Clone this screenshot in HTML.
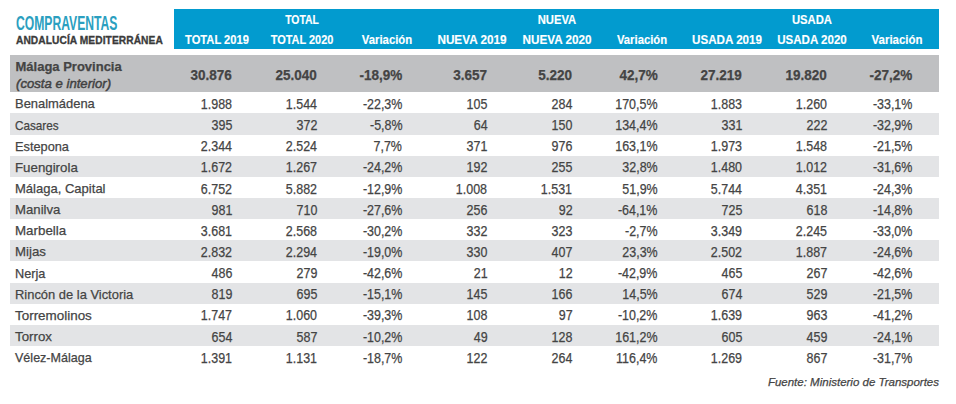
<!DOCTYPE html>
<html lang="es"><head><meta charset="utf-8"><title>Compraventas Andalucía Mediterránea</title>
<style>
*{margin:0;padding:0;box-sizing:border-box}
html,body{width:956px;height:404px;background:#fff;overflow:hidden}
body{position:relative;font-family:"Liberation Sans",Arial,sans-serif;color:#444;-webkit-text-stroke:0.25px #444}
.abs{position:absolute;white-space:nowrap}
.t{position:absolute;white-space:nowrap;line-height:1}
#title{left:15.9px;top:11.6px;font-size:20px;font-weight:bold;color:#2b9fc0;-webkit-text-stroke:0;transform-origin:0 0;transform:scaleX(0.607);letter-spacing:0}
#sub{left:16px;top:34.8px;font-size:10.2px;letter-spacing:0.08px;font-weight:bold;color:#3a3a3a;-webkit-text-stroke:0.3px #3a3a3a}
#hdr{left:174px;top:8.5px;width:765.3px;height:40px;background:#029bcf}
#band{left:9.8px;top:54.5px;width:929.6px;height:37.8px;background:#bfc0c2}
.stripe{position:absolute;left:9.8px;width:929.6px;background:#e3e4e6}
.h{position:absolute;line-height:1;white-space:nowrap;font-size:12.5px;font-weight:bold;color:#fff;-webkit-text-stroke:0.15px #fff}
.n{position:absolute;line-height:1;white-space:nowrap;font-size:14px;transform-origin:100% 50%}
.b{font-weight:bold}
.lab{position:absolute;line-height:1;white-space:nowrap;font-size:13px;left:15.5px}
.nm{font-size:13.5px;left:14.6px;transform-origin:0 50%}
#src{position:absolute;right:17px;top:377px;font-size:11.5px;font-style:italic;color:#454545;line-height:1}
</style></head>
<body>
<div class="abs" id="title">COMPRAVENTAS</div>
<div class="abs" id="sub">ANDALUCÍA MEDITERRÁNEA</div>
<div class="abs" id="hdr"></div>
<div class="abs" id="band"></div>
<div class="stripe" style="top:113.45px;height:21.15px"></div>
<div class="stripe" style="top:155.75px;height:21.15px"></div>
<div class="stripe" style="top:198.05px;height:21.15px"></div>
<div class="stripe" style="top:240.35px;height:21.15px"></div>
<div class="stripe" style="top:282.65px;height:21.15px"></div>
<div class="stripe" style="top:324.95px;height:21.15px"></div>
<div class="h" style="left:301.50px;top:13.72px;transform:translateX(-50%) scaleX(0.832)">TOTAL</div>
<div class="h" style="left:556.50px;top:13.72px;transform:translateX(-50%) scaleX(0.898)">NUEVA</div>
<div class="h" style="left:811.50px;top:13.72px;transform:translateX(-50%) scaleX(0.900)">USADA</div>
<div class="h" style="left:216.50px;top:33.82px;transform:translateX(-50%) scaleX(0.892)">TOTAL 2019</div>
<div class="h" style="left:301.50px;top:33.82px;transform:translateX(-50%) scaleX(0.876)">TOTAL 2020</div>
<div class="h" style="left:386.50px;top:33.82px;transform:translateX(-50%) scaleX(0.905)">Variación</div>
<div class="h" style="left:471.50px;top:33.82px;transform:translateX(-50%) scaleX(0.939)">NUEVA 2019</div>
<div class="h" style="left:556.50px;top:33.82px;transform:translateX(-50%) scaleX(0.935)">NUEVA 2020</div>
<div class="h" style="left:641.50px;top:33.82px;transform:translateX(-50%) scaleX(0.900)">Variación</div>
<div class="h" style="left:726.50px;top:33.82px;transform:translateX(-50%) scaleX(0.930)">USADA 2019</div>
<div class="h" style="left:811.50px;top:33.82px;transform:translateX(-50%) scaleX(0.924)">USADA 2020</div>
<div class="h" style="left:896.50px;top:33.82px;transform:translateX(-50%) scaleX(0.915)">Variación</div>
<div class="lab b" style="top:60.00px">Málaga Provincia</div>
<div class="lab" style="font-style:italic;-webkit-text-stroke:0.45px #404040;transform-origin:0 50%;transform:scaleX(1.012);top:76.80px">(costa e interior)</div>
<div class="n b" style="right:723.70px;top:67.59px;transform:scaleX(0.965)">30.876</div>
<div class="n b" style="right:638.70px;top:67.59px;transform:scaleX(0.965)">25.040</div>
<div class="n b" style="right:553.70px;top:67.59px;transform:scaleX(0.965)">-18,9%</div>
<div class="n b" style="right:468.70px;top:67.59px;transform:scaleX(0.965)">3.657</div>
<div class="n b" style="right:383.70px;top:67.59px;transform:scaleX(0.965)">5.220</div>
<div class="n b" style="right:298.70px;top:67.59px;transform:scaleX(0.965)">42,7%</div>
<div class="n b" style="right:213.70px;top:67.59px;transform:scaleX(0.965)">27.219</div>
<div class="n b" style="right:128.70px;top:67.59px;transform:scaleX(0.965)">19.820</div>
<div class="n b" style="right:43.70px;top:67.59px;transform:scaleX(0.965)">-27,2%</div>
<div class="lab nm" style="top:97.39px;transform:scaleX(0.958)">Benalmádena</div>
<div class="n" style="right:723.70px;top:96.97px;transform:scaleX(0.89)">1.988</div>
<div class="n" style="right:638.70px;top:96.97px;transform:scaleX(0.89)">1.544</div>
<div class="n" style="right:553.70px;top:96.97px;transform:scaleX(0.89)">-22,3%</div>
<div class="n" style="right:468.70px;top:96.97px;transform:scaleX(0.89)">105</div>
<div class="n" style="right:383.70px;top:96.97px;transform:scaleX(0.89)">284</div>
<div class="n" style="right:298.70px;top:96.97px;transform:scaleX(0.89)">170,5%</div>
<div class="n" style="right:213.70px;top:96.97px;transform:scaleX(0.89)">1.883</div>
<div class="n" style="right:128.70px;top:96.97px;transform:scaleX(0.89)">1.260</div>
<div class="n" style="right:43.70px;top:96.97px;transform:scaleX(0.89)">-33,1%</div>
<div class="lab nm" style="top:118.54px;transform:scaleX(0.868)">Casares</div>
<div class="n" style="right:723.70px;top:118.12px;transform:scaleX(0.89)">395</div>
<div class="n" style="right:638.70px;top:118.12px;transform:scaleX(0.89)">372</div>
<div class="n" style="right:553.70px;top:118.12px;transform:scaleX(0.89)">-5,8%</div>
<div class="n" style="right:468.70px;top:118.12px;transform:scaleX(0.89)">64</div>
<div class="n" style="right:383.70px;top:118.12px;transform:scaleX(0.89)">150</div>
<div class="n" style="right:298.70px;top:118.12px;transform:scaleX(0.89)">134,4%</div>
<div class="n" style="right:213.70px;top:118.12px;transform:scaleX(0.89)">331</div>
<div class="n" style="right:128.70px;top:118.12px;transform:scaleX(0.89)">222</div>
<div class="n" style="right:43.70px;top:118.12px;transform:scaleX(0.89)">-32,9%</div>
<div class="lab nm" style="top:139.69px;transform:scaleX(0.946)">Estepona</div>
<div class="n" style="right:723.70px;top:139.27px;transform:scaleX(0.89)">2.344</div>
<div class="n" style="right:638.70px;top:139.27px;transform:scaleX(0.89)">2.524</div>
<div class="n" style="right:553.70px;top:139.27px;transform:scaleX(0.89)">7,7%</div>
<div class="n" style="right:468.70px;top:139.27px;transform:scaleX(0.89)">371</div>
<div class="n" style="right:383.70px;top:139.27px;transform:scaleX(0.89)">976</div>
<div class="n" style="right:298.70px;top:139.27px;transform:scaleX(0.89)">163,1%</div>
<div class="n" style="right:213.70px;top:139.27px;transform:scaleX(0.89)">1.973</div>
<div class="n" style="right:128.70px;top:139.27px;transform:scaleX(0.89)">1.548</div>
<div class="n" style="right:43.70px;top:139.27px;transform:scaleX(0.89)">-21,5%</div>
<div class="lab nm" style="top:160.84px;transform:scaleX(0.984)">Fuengirola</div>
<div class="n" style="right:723.70px;top:160.42px;transform:scaleX(0.89)">1.672</div>
<div class="n" style="right:638.70px;top:160.42px;transform:scaleX(0.89)">1.267</div>
<div class="n" style="right:553.70px;top:160.42px;transform:scaleX(0.89)">-24,2%</div>
<div class="n" style="right:468.70px;top:160.42px;transform:scaleX(0.89)">192</div>
<div class="n" style="right:383.70px;top:160.42px;transform:scaleX(0.89)">255</div>
<div class="n" style="right:298.70px;top:160.42px;transform:scaleX(0.89)">32,8%</div>
<div class="n" style="right:213.70px;top:160.42px;transform:scaleX(0.89)">1.480</div>
<div class="n" style="right:128.70px;top:160.42px;transform:scaleX(0.89)">1.012</div>
<div class="n" style="right:43.70px;top:160.42px;transform:scaleX(0.89)">-31,6%</div>
<div class="lab nm" style="top:181.99px;transform:scaleX(0.965)">Málaga, Capital</div>
<div class="n" style="right:723.70px;top:181.57px;transform:scaleX(0.89)">6.752</div>
<div class="n" style="right:638.70px;top:181.57px;transform:scaleX(0.89)">5.882</div>
<div class="n" style="right:553.70px;top:181.57px;transform:scaleX(0.89)">-12,9%</div>
<div class="n" style="right:468.70px;top:181.57px;transform:scaleX(0.89)">1.008</div>
<div class="n" style="right:383.70px;top:181.57px;transform:scaleX(0.89)">1.531</div>
<div class="n" style="right:298.70px;top:181.57px;transform:scaleX(0.89)">51,9%</div>
<div class="n" style="right:213.70px;top:181.57px;transform:scaleX(0.89)">5.744</div>
<div class="n" style="right:128.70px;top:181.57px;transform:scaleX(0.89)">4.351</div>
<div class="n" style="right:43.70px;top:181.57px;transform:scaleX(0.89)">-24,3%</div>
<div class="lab nm" style="top:203.14px;transform:scaleX(0.976)">Manilva</div>
<div class="n" style="right:723.70px;top:202.72px;transform:scaleX(0.89)">981</div>
<div class="n" style="right:638.70px;top:202.72px;transform:scaleX(0.89)">710</div>
<div class="n" style="right:553.70px;top:202.72px;transform:scaleX(0.89)">-27,6%</div>
<div class="n" style="right:468.70px;top:202.72px;transform:scaleX(0.89)">256</div>
<div class="n" style="right:383.70px;top:202.72px;transform:scaleX(0.89)">92</div>
<div class="n" style="right:298.70px;top:202.72px;transform:scaleX(0.89)">-64,1%</div>
<div class="n" style="right:213.70px;top:202.72px;transform:scaleX(0.89)">725</div>
<div class="n" style="right:128.70px;top:202.72px;transform:scaleX(0.89)">618</div>
<div class="n" style="right:43.70px;top:202.72px;transform:scaleX(0.89)">-14,8%</div>
<div class="lab nm" style="top:224.29px;transform:scaleX(0.988)">Marbella</div>
<div class="n" style="right:723.70px;top:223.87px;transform:scaleX(0.89)">3.681</div>
<div class="n" style="right:638.70px;top:223.87px;transform:scaleX(0.89)">2.568</div>
<div class="n" style="right:553.70px;top:223.87px;transform:scaleX(0.89)">-30,2%</div>
<div class="n" style="right:468.70px;top:223.87px;transform:scaleX(0.89)">332</div>
<div class="n" style="right:383.70px;top:223.87px;transform:scaleX(0.89)">323</div>
<div class="n" style="right:298.70px;top:223.87px;transform:scaleX(0.89)">-2,7%</div>
<div class="n" style="right:213.70px;top:223.87px;transform:scaleX(0.89)">3.349</div>
<div class="n" style="right:128.70px;top:223.87px;transform:scaleX(0.89)">2.245</div>
<div class="n" style="right:43.70px;top:223.87px;transform:scaleX(0.89)">-33,0%</div>
<div class="lab nm" style="top:245.44px;transform:scaleX(0.980)">Mijas</div>
<div class="n" style="right:723.70px;top:245.02px;transform:scaleX(0.89)">2.832</div>
<div class="n" style="right:638.70px;top:245.02px;transform:scaleX(0.89)">2.294</div>
<div class="n" style="right:553.70px;top:245.02px;transform:scaleX(0.89)">-19,0%</div>
<div class="n" style="right:468.70px;top:245.02px;transform:scaleX(0.89)">330</div>
<div class="n" style="right:383.70px;top:245.02px;transform:scaleX(0.89)">407</div>
<div class="n" style="right:298.70px;top:245.02px;transform:scaleX(0.89)">23,3%</div>
<div class="n" style="right:213.70px;top:245.02px;transform:scaleX(0.89)">2.502</div>
<div class="n" style="right:128.70px;top:245.02px;transform:scaleX(0.89)">1.887</div>
<div class="n" style="right:43.70px;top:245.02px;transform:scaleX(0.89)">-24,6%</div>
<div class="lab nm" style="top:266.59px;transform:scaleX(0.940)">Nerja</div>
<div class="n" style="right:723.70px;top:266.17px;transform:scaleX(0.89)">486</div>
<div class="n" style="right:638.70px;top:266.17px;transform:scaleX(0.89)">279</div>
<div class="n" style="right:553.70px;top:266.17px;transform:scaleX(0.89)">-42,6%</div>
<div class="n" style="right:468.70px;top:266.17px;transform:scaleX(0.89)">21</div>
<div class="n" style="right:383.70px;top:266.17px;transform:scaleX(0.89)">12</div>
<div class="n" style="right:298.70px;top:266.17px;transform:scaleX(0.89)">-42,9%</div>
<div class="n" style="right:213.70px;top:266.17px;transform:scaleX(0.89)">465</div>
<div class="n" style="right:128.70px;top:266.17px;transform:scaleX(0.89)">267</div>
<div class="n" style="right:43.70px;top:266.17px;transform:scaleX(0.89)">-42,6%</div>
<div class="lab nm" style="top:287.74px;transform:scaleX(0.957)">Rincón de la Victoria</div>
<div class="n" style="right:723.70px;top:287.32px;transform:scaleX(0.89)">819</div>
<div class="n" style="right:638.70px;top:287.32px;transform:scaleX(0.89)">695</div>
<div class="n" style="right:553.70px;top:287.32px;transform:scaleX(0.89)">-15,1%</div>
<div class="n" style="right:468.70px;top:287.32px;transform:scaleX(0.89)">145</div>
<div class="n" style="right:383.70px;top:287.32px;transform:scaleX(0.89)">166</div>
<div class="n" style="right:298.70px;top:287.32px;transform:scaleX(0.89)">14,5%</div>
<div class="n" style="right:213.70px;top:287.32px;transform:scaleX(0.89)">674</div>
<div class="n" style="right:128.70px;top:287.32px;transform:scaleX(0.89)">529</div>
<div class="n" style="right:43.70px;top:287.32px;transform:scaleX(0.89)">-21,5%</div>
<div class="lab nm" style="top:308.89px;transform:scaleX(0.994)">Torremolinos</div>
<div class="n" style="right:723.70px;top:308.47px;transform:scaleX(0.89)">1.747</div>
<div class="n" style="right:638.70px;top:308.47px;transform:scaleX(0.89)">1.060</div>
<div class="n" style="right:553.70px;top:308.47px;transform:scaleX(0.89)">-39,3%</div>
<div class="n" style="right:468.70px;top:308.47px;transform:scaleX(0.89)">108</div>
<div class="n" style="right:383.70px;top:308.47px;transform:scaleX(0.89)">97</div>
<div class="n" style="right:298.70px;top:308.47px;transform:scaleX(0.89)">-10,2%</div>
<div class="n" style="right:213.70px;top:308.47px;transform:scaleX(0.89)">1.639</div>
<div class="n" style="right:128.70px;top:308.47px;transform:scaleX(0.89)">963</div>
<div class="n" style="right:43.70px;top:308.47px;transform:scaleX(0.89)">-41,2%</div>
<div class="lab nm" style="top:330.04px;transform:scaleX(0.984)">Torrox</div>
<div class="n" style="right:723.70px;top:329.62px;transform:scaleX(0.89)">654</div>
<div class="n" style="right:638.70px;top:329.62px;transform:scaleX(0.89)">587</div>
<div class="n" style="right:553.70px;top:329.62px;transform:scaleX(0.89)">-10,2%</div>
<div class="n" style="right:468.70px;top:329.62px;transform:scaleX(0.89)">49</div>
<div class="n" style="right:383.70px;top:329.62px;transform:scaleX(0.89)">128</div>
<div class="n" style="right:298.70px;top:329.62px;transform:scaleX(0.89)">161,2%</div>
<div class="n" style="right:213.70px;top:329.62px;transform:scaleX(0.89)">605</div>
<div class="n" style="right:128.70px;top:329.62px;transform:scaleX(0.89)">459</div>
<div class="n" style="right:43.70px;top:329.62px;transform:scaleX(0.89)">-24,1%</div>
<div class="lab nm" style="top:351.19px;transform:scaleX(0.929)">Vélez-Málaga</div>
<div class="n" style="right:723.70px;top:350.77px;transform:scaleX(0.89)">1.391</div>
<div class="n" style="right:638.70px;top:350.77px;transform:scaleX(0.89)">1.131</div>
<div class="n" style="right:553.70px;top:350.77px;transform:scaleX(0.89)">-18,7%</div>
<div class="n" style="right:468.70px;top:350.77px;transform:scaleX(0.89)">122</div>
<div class="n" style="right:383.70px;top:350.77px;transform:scaleX(0.89)">264</div>
<div class="n" style="right:298.70px;top:350.77px;transform:scaleX(0.89)">116,4%</div>
<div class="n" style="right:213.70px;top:350.77px;transform:scaleX(0.89)">1.269</div>
<div class="n" style="right:128.70px;top:350.77px;transform:scaleX(0.89)">867</div>
<div class="n" style="right:43.70px;top:350.77px;transform:scaleX(0.89)">-31,7%</div>
<div id="src">Fuente: Ministerio de Transportes</div>
</body></html>
